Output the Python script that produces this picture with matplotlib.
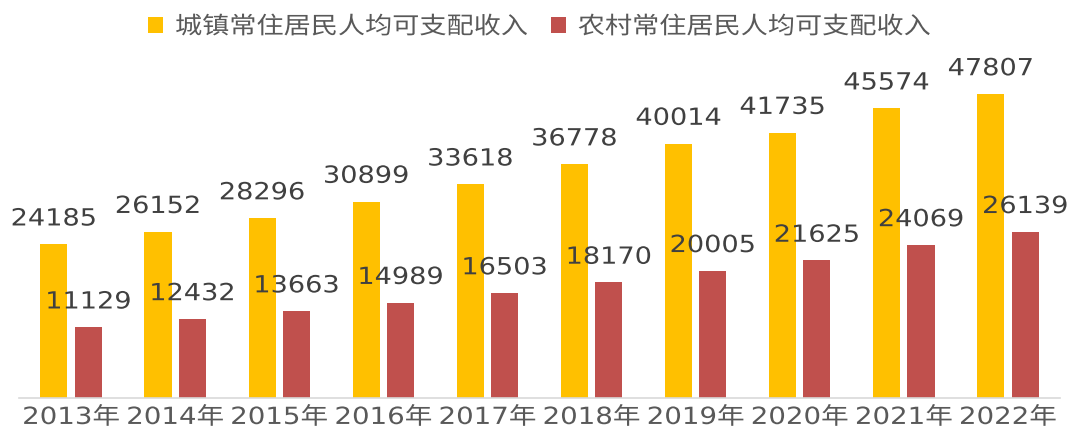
import matplotlib
matplotlib.use("Agg")
import matplotlib.pyplot as plt
from matplotlib.patheffects import AbstractPathEffect
from matplotlib.transforms import Affine2D
import numpy as np

years = ["2013年", "2014年", "2015年", "2016年", "2017年", "2018年", "2019年", "2020年", "2021年", "2022年"]
urban = [24185, 26152, 28296, 30899, 33618, 36778, 40014, 41735, 45574, 47807]
rural = [11129, 12432, 13663, 14989, 16503, 18170, 20005, 21625, 24069, 26139]
series_names = ["城镇常住居民人均可支配收入", "农村常住居民人均可支配收入"]

plt.rcParams['font.family'] = ['DejaVu Sans', 'Noto Sans CJK SC']


class HStretch(AbstractPathEffect):
    """Stretch drawn text horizontally (the reference uses a wide font)."""
    def __init__(self, sx=1.15, anchor="center"):
        super().__init__()
        self.sx = sx
        self.anchor = anchor

    def draw_path(self, renderer, gc, tpath, affine, rgbFace=None):
        ext = tpath.get_extents(affine)
        cx = ext.x0 if self.anchor == "left" else (ext.x0 + ext.x1) / 2
        tr = affine + Affine2D().translate(-cx, 0).scale(self.sx, 1).translate(cx, 0)
        renderer.draw_path(gc, tpath, tr, rgbFace)


W, H = 1069, 434
fig = plt.figure(figsize=(W / 100, H / 100), dpi=100)
left, right, base, top = 19, 1060, 398, 60
ax = fig.add_axes([left / W, (H - base) / H, (right - left) / W, (base - top) / H])

x = np.arange(len(years))
bw = 0.26
off = 0.165
c_urban = "#FFC000"
c_rural = "#C0504D"
b1 = ax.bar(x - off, urban, bw, color=c_urban, label=series_names[0])
b2 = ax.bar(x + off, rural, bw, color=c_rural, label=series_names[1])

ymax = 47807 * (base - top) / (base - 94)
ax.set_ylim(0, ymax)
ax.set_xlim(-0.5, len(years) - 0.5)

for bars, vals in ((b1, urban), (b2, rural)):
    for r, v in zip(bars, vals):
        ax.annotate(str(v), (r.get_x() + r.get_width() / 2, v), xytext=(0, 13.5),
                    textcoords="offset points", ha="center", va="baseline",
                    fontsize=17, color="#404040", family="DejaVu Sans",
                    path_effects=[HStretch(1.15)])

for s in ("top", "right", "left"):
    ax.spines[s].set_visible(False)
ax.spines["bottom"].set_color("#D9D9D9")
ax.spines["bottom"].set_linewidth(1.2)
ax.set_yticks([])
ax.set_xticks(x)
ax.set_xticklabels(years, fontsize=17, color="#595959",
                   family=["DejaVu Sans", "Noto Sans CJK SC"])
ax.tick_params(axis="x", length=0, pad=5)
for t in ax.get_xticklabels():
    t.set_path_effects([HStretch(1.17)])

leg = fig.legend(handles=[b1, b2], labels=series_names, loc="center",
                 bbox_to_anchor=(516.5 / W, 1 - 27 / H), ncol=2, frameon=False,
                 prop={"family": ["Noto Sans CJK SC"], "size": 17},
                 handlelength=0.65, handleheight=0.65, handletextpad=0.5,
                 columnspacing=2.9, labelcolor="#595959")
for t in leg.get_texts():
    t.set_path_effects([HStretch(1.15, anchor="left")])

fig.savefig("out.png", dpi=100)
